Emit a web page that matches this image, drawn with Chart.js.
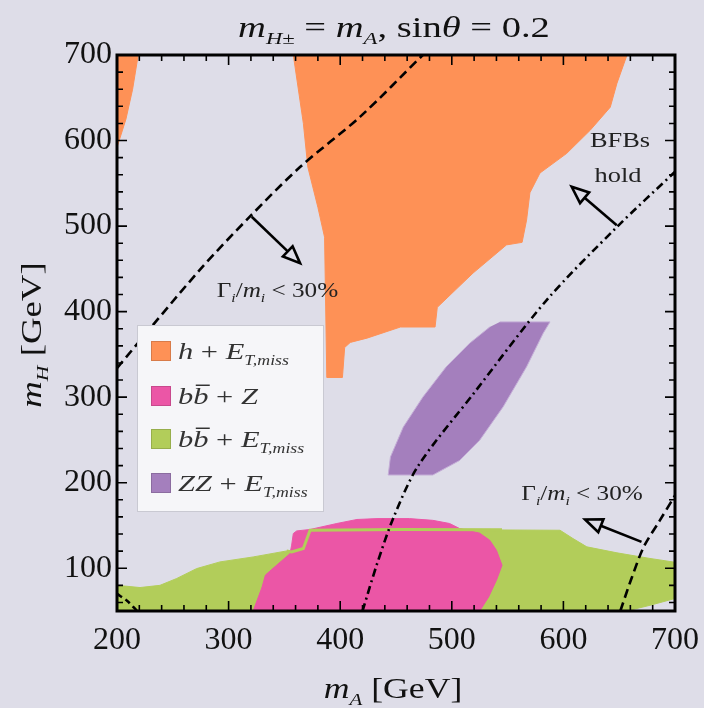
<!DOCTYPE html>
<html>
<head>
<meta charset="utf-8">
<script src="https://cdn.jsdelivr.net/npm/chart.js@4.4.1/dist/chart.umd.min.js"></script>
<style>
  html, body { margin: 0; padding: 0; background: #dedde8; }
  canvas { display: block; }
</style>
</head>
<body>
<canvas id="plot" width="704" height="708"></canvas>
<script>
(function() {
  'use strict';

  // axis ticks
  var X_TICKS = [200, 300, 400, 500, 600, 700];
  var Y_TICKS = [100, 200, 300, 400, 500, 600, 700];

  // excluded regions (m_A, m_H) in GeV
  var ORANGE_X  = [358, 367, 371, 380, 386, 388, 402, 404, 409, 424, 454, 485, 487, 519, 549, 563, 567, 570, 579, 603, 624, 642, 648, 657];
  var ORANGE_Y  = [700, 620, 569, 522, 487, 323, 323, 358, 364, 369, 382, 382, 405, 445, 478, 481, 507, 539, 562, 585, 612, 639, 667, 700];
  var ORANGE2_X = [200, 219, 214, 208, 200];
  var ORANGE2_Y = [700, 700, 660, 625, 592];

  var GREEN_X = [200, 200, 220.6, 238.5, 253.5, 271.4, 292.3, 322, 352, 356.5, 367, 373, 453.6, 597, 608.6, 621, 648, 677.6, 700, 700, 677.6, 656.7];
  var GREEN_Y = [50, 80, 77.4, 80, 88, 99.6, 107.4, 113.2, 120.2, 119, 123, 144.4, 145.3, 144.4, 134.7, 125, 118, 111.4, 107, 64.6, 56.7, 50];
  var GREEN_EDGE_X = [352, 356.5, 367, 373, 453.6, 545];
  var GREEN_EDGE_Y = [120.2, 119, 123, 144.4, 145.3, 145];

  var PINK_X = [322, 330, 333, 343, 355, 356.5, 358, 361, 373, 397, 415, 433, 462, 483, 498, 507, 525, 534, 540, 545, 540, 533, 525];
  var PINK_Y = [50, 78, 92, 103.5, 117, 127, 140.6, 143.6, 145.3, 152.3, 157, 158, 158, 156, 152.3, 146.4, 141, 132.7, 121, 103.5, 86, 66.4, 50];

  var PURPLE_X = [543, 588, 582, 567, 546, 525, 507, 483, 443, 445, 456.5, 474, 495, 516, 534];
  var PURPLE_Y = [388, 388, 375, 335.5, 288.7, 249.7, 226, 209, 209, 230, 265, 300, 335.5, 363, 382];

  // contours
  var WIDTH1_X = [200, 274, 319, 364, 418, 474];
  var WIDTH1_Y = [334, 448.5, 511, 569, 628, 700];
  var WIDTH2_X = [651, 661, 672, 686, 700];
  var WIDTH2_Y = [50, 88, 125, 155, 185];
  var WIDTH3_X = [200, 209, 218];
  var WIDTH3_Y = [70, 62, 50];
  var BFB_X = [420, 433, 448, 470, 520, 585, 648, 700];
  var BFB_Y = [50, 105, 160, 220, 305, 413.5, 499, 563.5];

  // arrows: base -> tip
  var ARROW_X0 = [320.7, 647.8, 670];
  var ARROW_Y0 = [510.9, 501, 130.8];
  var ARROW_X1 = [364, 607.4, 619.4];
  var ARROW_Y1 = [456.7, 546, 157];

  var ORANGE = '#fe9156';
  var PINK   = '#eb56a6';
  var GREEN  = '#b2cd5a';
  var PURPLE = '#a47fbd';
  var SERIF  = "'Liberation Serif', 'DejaVu Serif', serif";

  function pts(xs, ys) {
    return xs.map(function(x, i) { return { x: x, y: ys[i] }; });
  }

  function area(xs, ys, color, order, edge) {
    return {
      data: pts(xs, ys), showLine: true, fill: 'shape', tension: 0,
      backgroundColor: color, borderColor: edge || color, borderWidth: 1,
      pointRadius: 0, order: order
    };
  }

  function curve(xs, ys, dash, order) {
    return {
      data: pts(xs, ys), showLine: true, fill: false, tension: 0.3,
      borderColor: '#000', borderWidth: 2.6, borderDash: dash,
      pointRadius: 0, order: order
    };
  }

  var greenEdge = {
    data: pts(GREEN_EDGE_X, GREEN_EDGE_Y), showLine: true, fill: false, tension: 0,
    borderColor: GREEN, borderWidth: 3, pointRadius: 0, order: 7
  };

  // rich text: runs of {t, it, sub, bar}; sx stretches horizontally
  function drawRuns(ctx, runs, x, y, size, align, sx) {
    function fontFor(r) {
      return (r.it ? 'italic ' : '') + Math.round(size * (r.sub ? 0.6 : 1)) + 'px ' + SERIF;
    }
    var w = 0;
    runs.forEach(function(r) { ctx.font = fontFor(r); r.w = ctx.measureText(r.t).width; w += r.w; });
    ctx.save();
    ctx.translate(x, y);
    ctx.scale(sx || 1, 1);
    var cx = align === 'center' ? -w / 2 : 0;
    ctx.textAlign = 'left';
    ctx.textBaseline = 'alphabetic';
    runs.forEach(function(r) {
      ctx.font = fontFor(r);
      ctx.fillText(r.t, cx, r.sub ? size * 0.25 : 0);
      if (r.bar) {
        ctx.lineWidth = 1.5;
        ctx.beginPath();
        ctx.moveTo(cx + 2, -size * 0.78);
        ctx.lineTo(cx + r.w + 1, -size * 0.78);
        ctx.stroke();
      }
      cx += r.w;
    });
    ctx.restore();
  }

  var emiss = [{ t: ' + ' }, { t: 'E', it: 1 }, { t: 'T,miss', it: 1, sub: 1 }];
  var LEGEND = [
    { color: ORANGE, runs: [{ t: 'h', it: 1 }].concat(emiss) },
    { color: PINK,   runs: [{ t: 'b', it: 1 }, { t: 'b', it: 1, bar: 1 }, { t: ' + ' }, { t: 'Z', it: 1 }] },
    { color: GREEN,  runs: [{ t: 'b', it: 1 }, { t: 'b', it: 1, bar: 1 }].concat(emiss) },
    { color: PURPLE, runs: [{ t: 'ZZ', it: 1 }].concat(emiss) }
  ];

  function widthLabel() {
    return [{ t: 'Γ' }, { t: 'i', it: 1, sub: 1 }, { t: '/' }, { t: 'm', it: 1 }, { t: 'i', it: 1, sub: 1 }, { t: ' < 30%' }];
  }

  var decor = {
    id: 'decor',
    afterDatasetsDraw: function(chart) {
      var ctx = chart.ctx, a = chart.chartArea;
      var xs = chart.scales.x, ys = chart.scales.y;
      ctx.save();
      ctx.strokeStyle = '#000';
      ctx.fillStyle = '#000';

      // arrows
      ctx.lineWidth = 2.6;
      for (var i = 0; i < ARROW_X0.length; i++) {
        var x0 = xs.getPixelForValue(ARROW_X0[i]), y0 = ys.getPixelForValue(ARROW_Y0[i]);
        var x1 = xs.getPixelForValue(ARROW_X1[i]), y1 = ys.getPixelForValue(ARROW_Y1[i]);
        var ang = Math.atan2(y1 - y0, x1 - x0), L = 17, H = 7;
        var bx = x1 - L * Math.cos(ang), by = y1 - L * Math.sin(ang);
        ctx.beginPath();
        ctx.moveTo(x0, y0); ctx.lineTo(bx, by);
        ctx.stroke();
        ctx.beginPath();
        ctx.moveTo(x1, y1);
        ctx.lineTo(bx + H * Math.sin(ang), by - H * Math.cos(ang));
        ctx.lineTo(bx - H * Math.sin(ang), by + H * Math.cos(ang));
        ctx.closePath();
        ctx.stroke();
      }

      // texts inside plot
      ctx.fillStyle = '#222';
      drawRuns(ctx, widthLabel(), xs.getPixelForValue(343.8), ys.getPixelForValue(425) + 7, 21, 'center', 1.2);
      drawRuns(ctx, widthLabel(), xs.getPixelForValue(616.7), ys.getPixelForValue(187.7) + 7, 21, 'center', 1.2);
      drawRuns(ctx, [{ t: 'BFBs' }], xs.getPixelForValue(650.7), ys.getPixelForValue(601.8) + 8, 22, 'center', 1.2);
      drawRuns(ctx, [{ t: 'hold' }], xs.getPixelForValue(649), ys.getPixelForValue(561) + 8, 22, 'center', 1.2);

      // frame with inward ticks
      ctx.strokeStyle = '#000';
      ctx.lineWidth = 1.6;
      var v, p, len;
      for (v = 200; v <= 700; v += 20) {
        p = xs.getPixelForValue(v);
        len = v % 100 === 0 ? 10 : 6;
        ctx.beginPath();
        ctx.moveTo(p, a.bottom); ctx.lineTo(p, a.bottom - len);
        ctx.moveTo(p, a.top); ctx.lineTo(p, a.top + len);
        ctx.stroke();
      }
      for (v = 60; v <= 700; v += 20) {
        p = ys.getPixelForValue(v);
        len = v % 100 === 0 ? 10 : 6;
        ctx.beginPath();
        ctx.moveTo(a.left, p); ctx.lineTo(a.left + len, p);
        ctx.moveTo(a.right, p); ctx.lineTo(a.right - len, p);
        ctx.stroke();
      }
      ctx.lineWidth = 3;
      ctx.strokeRect(a.left, a.top, a.right - a.left, a.bottom - a.top);

      // legend box
      ctx.fillStyle = '#f6f6f9';
      ctx.fillRect(137, 325, 186, 186);
      ctx.strokeStyle = '#c9c9d2';
      ctx.lineWidth = 1;
      ctx.strokeRect(137.5, 325.5, 186, 186);
      var rowY = [351, 396, 439, 483];
      LEGEND.forEach(function(item, k) {
        ctx.fillStyle = item.color;
        ctx.fillRect(151, rowY[k] - 10, 20, 20);
        ctx.strokeStyle = 'rgba(0,0,0,0.15)';
        ctx.strokeRect(151.5, rowY[k] - 9.5, 19, 19);
        ctx.fillStyle = '#333';
        ctx.strokeStyle = '#333';
        drawRuns(ctx, item.runs, 178, rowY[k] + 8, 24, 'left', 1.27);
      });

      // title and axis titles
      ctx.fillStyle = '#111';
      ctx.strokeStyle = '#111';
      drawRuns(ctx, [{ t: 'm', it: 1 }, { t: 'H±', it: 1, sub: 1 }, { t: ' = ' }, { t: 'm', it: 1 }, { t: 'A', it: 1, sub: 1 },
                     { t: ', sin' }, { t: 'θ', it: 1 }, { t: ' = 0.2' }], 394, 37, 29, 'center', 1.33);
      drawRuns(ctx, [{ t: 'm', it: 1 }, { t: 'A', it: 1, sub: 1 }, { t: ' [GeV]' }], 393, 698, 29, 'center', 1.23);
      ctx.save();
      ctx.translate(41, 335);
      ctx.rotate(-Math.PI / 2);
      drawRuns(ctx, [{ t: 'm', it: 1 }, { t: 'H', it: 1, sub: 1 }, { t: ' [GeV]' }], 0, 0, 29, 'center', 1.27);
      ctx.restore();

      ctx.restore();
    }
  };

  var tickFont = { family: SERIF, size: 32 };

  new Chart(document.getElementById('plot'), {
    type: 'scatter',
    data: {
      datasets: [
        area(ORANGE_X, ORANGE_Y, ORANGE, 10),
        area(ORANGE2_X, ORANGE2_Y, ORANGE, 10),
        area(GREEN_X, GREEN_Y, GREEN, 9),
        area(PINK_X, PINK_Y, PINK, 8),
        greenEdge,
        area(PURPLE_X, PURPLE_Y, PURPLE, 6, '#c3acd6'),
        curve(WIDTH1_X, WIDTH1_Y, [9, 5], 1),
        curve(WIDTH2_X, WIDTH2_Y, [9, 5], 1),
        curve(WIDTH3_X, WIDTH3_Y, [6, 4], 1),
        curve(BFB_X, BFB_Y, [8, 4, 2, 4], 1)
      ]
    },
    options: {
      responsive: false,
      animation: false,
      layout: { padding: { top: 55, right: 29, left: 0, bottom: 0 } },
      plugins: { legend: { display: false }, tooltip: { enabled: false } },
      scales: {
        x: {
          type: 'linear', min: 200, max: 700,
          afterFit: function(s) { s.height = 97; s.paddingLeft = 0; s.paddingRight = 0; },
          afterBuildTicks: function(s) { s.ticks = X_TICKS.map(function(v) { return { value: v }; }); },
          grid: { display: false, drawTicks: false },
          border: { display: false },
          ticks: { font: tickFont, color: '#111', padding: 10, maxRotation: 0, autoSkip: false }
        },
        y: {
          type: 'linear', min: 50, max: 700,
          afterFit: function(s) { s.width = 117; s.paddingTop = 0; s.paddingBottom = 0; },
          afterBuildTicks: function(s) { s.ticks = Y_TICKS.map(function(v) { return { value: v }; }); },
          grid: { display: false, drawTicks: false },
          border: { display: false },
          ticks: { font: tickFont, color: '#111', padding: 5, autoSkip: false }
        }
      }
    },
    plugins: [decor]
  });
})();
</script>
</body>
</html>
